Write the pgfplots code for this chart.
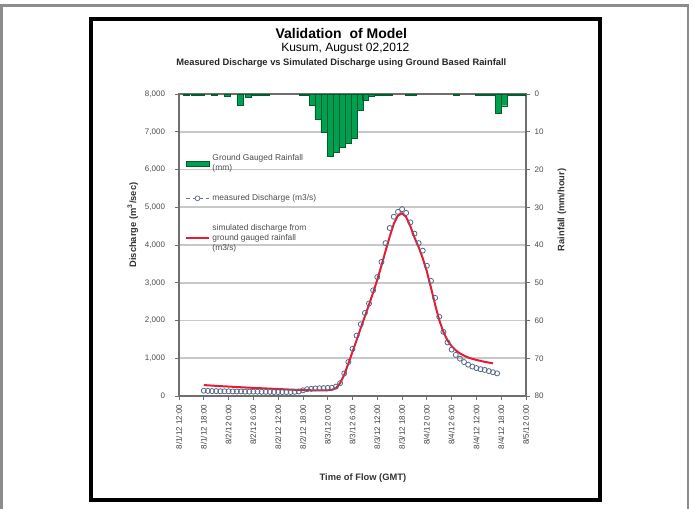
\documentclass[border=0pt]{standalone}
\usepackage{fontspec}
\setmainfont{Liberation Sans}
\usepackage{pgfplots}
\pgfplotsset{compat=1.18}

\definecolor{rainfill}{RGB}{0,160,80}
\definecolor{raindraw}{RGB}{0,95,45}
\definecolor{simred}{RGB}{228,28,52}
\definecolor{measblue}{RGB}{85,105,135}
\definecolor{gridgray}{RGB}{200,200,200}
\definecolor{axisgray}{RGB}{110,110,110}

\pgfplotsset{
  hydro/.style={
    at={(134.25pt,84pt)}, anchor=south west,
    scale only axis, width=260.25pt, height=226.5pt,
    xmin=0, xmax=84,
    tick align=outside, major tick length=3pt,
    tick style={axisgray, line width=0.6pt},
    axis line style={axisgray, line width=0.8pt},
    /pgf/number format/1000 sep={,},
    /pgf/number format/assume math mode=true,
    yticklabel style={font=\fontsize{6}{7}\selectfont, text=black!70},
  }
}

\begin{document}
\begin{tikzpicture}
\useasboundingbox (0,0) rectangle (520.5pt,381pt);
% frames
\draw[black!45, line width=2pt] (1.125pt,-10pt) -- (1.125pt,376.9pt) -- (516pt,376.9pt) -- (516pt,-10pt);
\draw[black, line width=3.2pt] (68.25pt,6pt) rectangle (450pt,366.75pt);

% titles
\node[font=\bfseries\fontsize{10.5}{12}\selectfont] at (256pt,356.25pt) {Validation\ \ of Model};
\node[font=\fontsize{9}{10}\selectfont] at (259pt,344.25pt) {Kusum, August 02,2012};
\node[font=\bfseries\fontsize{7}{8}\selectfont, text=black!85] at (256pt,333.75pt) {Measured Discharge vs Simulated Discharge using Ground Based Rainfall};

% discharge axis
\begin{axis}[hydro,
  ymin=0, ymax=8000,
  xtick={0,6,...,84},
  xticklabels={8/1/12 12:00,8/1/12 18:00,8/2/12 0:00,8/2/12 6:00,8/2/12 12:00,8/2/12 18:00,8/3/12 0:00,8/3/12 6:00,8/3/12 12:00,8/3/12 18:00,8/4/12 0:00,8/4/12 6:00,8/4/12 12:00,8/4/12 18:00,8/5/12 0:00},
  xticklabel style={font=\fontsize{6}{7}\selectfont, text=black!75, rotate=90, anchor=east},
  ytick={0,1000,...,8000},
  xtick pos=left, ytick pos=left,
  yticklabel style={xshift=-4pt},
  ymajorgrids, major grid style={gridgray, line width=1.3pt},
  xlabel={Time of Flow (GMT)},
  xlabel style={at={(axis description cs:0.53,-0.272)}, anchor=center, font=\bfseries\fontsize{7}{8}\selectfont, text=black!80},
  ylabel={Discharge (m\textsuperscript{3}/sec)},
  ylabel style={at={(axis description cs:-0.133,0.566)}, anchor=center, font=\bfseries\fontsize{7}{8}\selectfont, text=black!80},
  legend style={at={(0.017,0.81)}, anchor=north west, draw=none, fill=none,
    font=\fontsize{6.3}{7.4}\selectfont, text=black!70, row sep=12.5pt, inner sep=0pt,
    nodes={align=left}},
  legend cell align=left,
]
\addlegendimage{legend image code/.code={\fill[rainfill, draw=raindraw, line width=0.3pt] (0pt,-1.8pt) rectangle (17pt,1.8pt);}}
\addlegendentry{Ground Gauged Rainfall\\(mm)}

\addplot[only marks, mark=o, mark size=1.9pt,
  mark options={draw=measblue, fill=white, line width=0.6pt},
  legend image code/.code={\draw[black!55, line width=0.4pt, densely dashed] (0pt,0pt) -- (17pt,0pt);
    \draw[measblue, fill=white, line width=0.5pt] (8.5pt,0pt) circle (1.8pt);}]
coordinates {
(6,140)(7,135)(8,130)(9,130)(10,125)(11,125)(12,125)(13,120)(14,120)(15,120)
(16,115)(17,115)(18,115)(19,115)(20,110)(21,110)(22,110)(23,105)(24,105)(25,105)
(26,105)(27,105)(28,110)(29,120)(30,150)(31,180)(32,190)(33,200)(34,205)(35,210)
(36,215)(37,220)(38,250)(39,340)(40,600)(41,900)(42,1250)(43,1600)(44,1900)(45,2200)
(46,2450)(47,2800)(48,3150)(49,3550)(50,4050)(51,4450)(52,4750)(53,4880)(54,4950)(55,4850)
(56,4600)(57,4300)(58,4050)(59,3850)(60,3450)(61,3050)(62,2600)(63,2100)(64,1700)(65,1420)
(66,1230)(67,1090)(68,990)(69,900)(70,830)(71,780)(72,740)(73,710)(74,690)(75,660)
(76,630)(77,600)
};
\addlegendentry{measured Discharge (m3/s)}

\addplot[simred, line width=1.5pt, no marks,
  legend image code/.code={\draw[simred, line width=1.5pt] (0pt,0pt) -- (17pt,0pt);}]
coordinates {
(6,290)(8,275)(10,262)(12,250)(14,238)(16,226)(18,215)(20,205)(22,195)(24,185)
(26,175)(28,165)(30,158)(32,152)(34,150)(36,152)(37,165)(38,210)(39,340)(40,560)
(41,860)(42,1170)(43,1480)(44,1800)(45,2110)(46,2420)(47,2740)(48,3080)(49,3450)(50,3840)
(51,4220)(52,4560)(53,4780)(54,4840)(55,4740)(56,4500)(57,4200)(58,3950)(59,3650)(60,3300)
(61,2870)(62,2420)(63,2010)(64,1700)(65,1470)(66,1320)(67,1210)(68,1130)(69,1070)(70,1020)
(71,985)(72,955)(73,930)(74,905)(75,885)(76,865)
};
\addlegendentry{simulated discharge from\\ground gauged rainfall\\(m3/s)}
\end{axis}

% rainfall axis, reversed, hanging from the top
\begin{axis}[hydro,
  ymin=0, ymax=80, y dir=reverse,
  hide x axis, axis y line*=right,
  ytick={0,10,...,80},
  ylabel={Rainfall (mm/hour)},
  ylabel style={at={(axis description cs:1.104,0.616)}, anchor=center, font=\bfseries\fontsize{7}{8}\selectfont, text=black!80},
]
\addplot[ybar, bar width=1.45, fill=rainfill, draw=raindraw, line width=0.3pt]
coordinates {
(1.7,0.3)(3.6,0.3)(5.3,0.2)(8.5,0.2)(11.6,0.5)(14.8,3.0)(16.7,0.9)(18.2,0.4)(19.6,0.3)(21.1,0.3)
(29.8,0.3)(30.8,0.4)(32.2,3.0)(33.6,6.8)(35.1,10.2)(36.7,16.6)(38.1,15.3)(39.6,14.0)(41.0,13.0)(42.5,11.7)
(43.8,4.2)(45.1,1.6)(46.5,0.5)(47.9,0.3)(49.4,0.3)(50.8,0.2)(55.4,0.3)(56.6,0.3)(67.1,0.4)(72.4,0.3)
(74.1,0.3)(75.5,0.3)(77.3,5.0)(78.7,3.1)(80.1,0.3)(81.6,0.3)(83.0,0.2)
};
\end{axis}
\end{tikzpicture}
\end{document}
